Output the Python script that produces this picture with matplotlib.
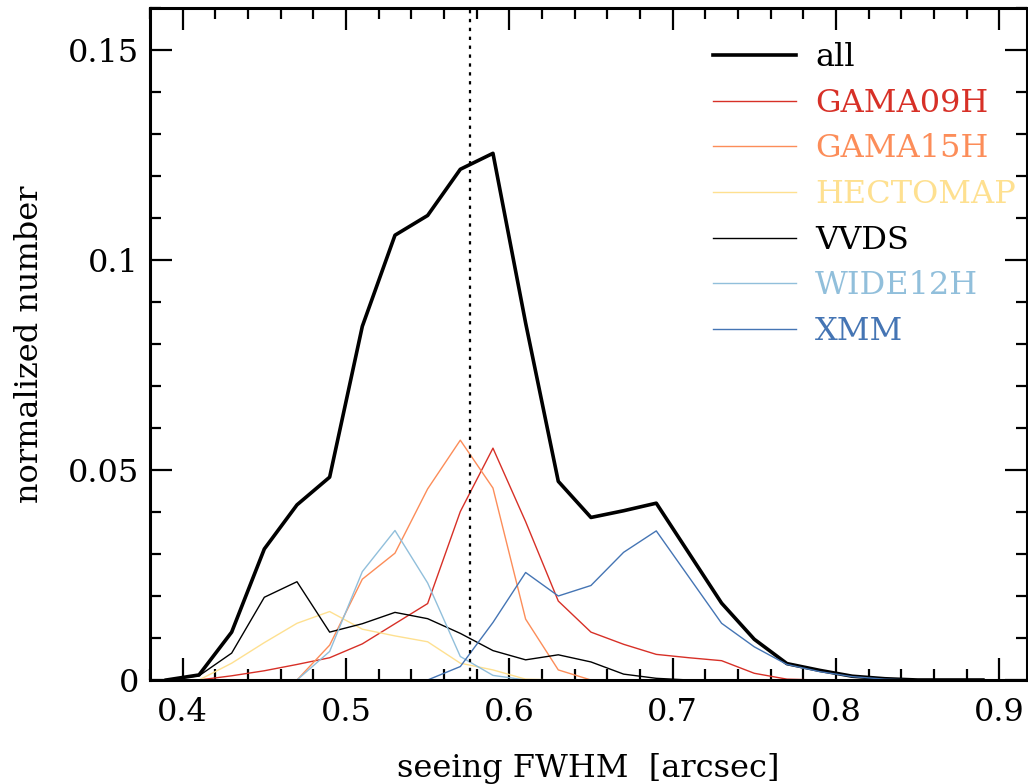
import numpy as np
import matplotlib
matplotlib.use("Agg")
import matplotlib.pyplot as plt
from matplotlib.ticker import MultipleLocator, FormatStrFormatter, FuncFormatter

# data: bin centres and normalized counts per field
bins = [0.39, 0.41, 0.43, 0.45, 0.47, 0.49, 0.51, 0.53, 0.55, 0.57, 0.59, 0.61, 0.63,
        0.65, 0.67, 0.69, 0.71, 0.73, 0.75, 0.77, 0.79, 0.81, 0.83, 0.85, 0.87, 0.89]

all_fields = [0.0, 0.0012, 0.0114, 0.0312, 0.0417, 0.0483, 0.0842, 0.1059, 0.1106, 0.1216, 0.1254, 0.0850, 0.0473,
              0.0387, 0.0403, 0.0421, 0.0302, 0.0183, 0.0097, 0.0039, 0.0023, 0.0009, 0.0003, 0.0, 0.0, 0.0]
gama09h = [0.0, 0.0, 0.0010, 0.0022, 0.0037, 0.0053, 0.0086, 0.0134, 0.0182, 0.0401, 0.0552, 0.0377, 0.0188,
           0.0114, 0.0085, 0.0061, 0.0053, 0.0046, 0.0016, 0.0002, 0.0, 0.0, 0.0, 0.0, 0.0, 0.0]
gama15h = [0.0, 0.0, 0.0, 0.0, 0.0, 0.0083, 0.0240, 0.0302, 0.0455, 0.0571, 0.0457, 0.0145, 0.0024,
           0.0, 0.0, 0.0, 0.0, 0.0, 0.0, 0.0, 0.0, 0.0, 0.0, 0.0, 0.0, 0.0]
hectomap = [0.0, 0.0, 0.0040, 0.0089, 0.0135, 0.0163, 0.0121, 0.0105, 0.0091, 0.0040, 0.0024, 0.0002, 0.0,
            0.0, 0.0, 0.0, 0.0, 0.0, 0.0, 0.0, 0.0, 0.0, 0.0, 0.0, 0.0, 0.0]
vvds = [0.0, 0.0010, 0.0064, 0.0197, 0.0234, 0.0114, 0.0134, 0.0161, 0.0146, 0.0111, 0.0070, 0.0048, 0.0060,
        0.0043, 0.0014, 0.0004, 0.0, 0.0, 0.0, 0.0, 0.0, 0.0, 0.0, 0.0, 0.0, 0.0]
wide12h = [0.0, 0.0, 0.0, 0.0, 0.0, 0.0068, 0.0258, 0.0356, 0.0231, 0.0056, 0.0011, 0.0, 0.0,
           0.0, 0.0, 0.0, 0.0, 0.0, 0.0, 0.0, 0.0, 0.0, 0.0, 0.0, 0.0, 0.0]
xmm = [0.0, 0.0, 0.0, 0.0, 0.0, 0.0, 0.0, 0.0, 0.0, 0.0032, 0.0137, 0.0256, 0.0200,
       0.0225, 0.0304, 0.0355, 0.0245, 0.0135, 0.0079, 0.0037, 0.0020, 0.0008, 0.0002, 0.0, 0.0, 0.0]

median_seeing = 0.576

plt.rcParams['font.family'] = ['DejaVu Serif']
plt.rcParams['font.size'] = 23

fig = plt.figure(figsize=(10.28, 7.84), dpi=100)
ax = fig.add_axes([150 / 1028, 104 / 784, 877 / 1028, 672 / 784])

ax.plot(bins, all_fields, color='black', lw=2.6, label='all')
ax.plot(bins, gama09h, color='#d73027', lw=1.0, label='GAMA09H')
ax.plot(bins, gama15h, color='#fc8d59', lw=1.0, label='GAMA15H')
ax.plot(bins, hectomap, color='#fee090', lw=1.0, label='HECTOMAP')
ax.plot(bins, vvds, color='black', lw=1.0, label='VVDS')
ax.plot(bins, wide12h, color='#91bfdb', lw=1.0, label='WIDE12H')
ax.plot(bins, xmm, color='#4575b4', lw=1.0, label='XMM')
ax.axvline(median_seeing, color='black', lw=1.6, ls=(0, (1.5, 2.5)))

ax.set_xlim(0.38, 0.917)
ax.set_ylim(0, 0.16)

ax.xaxis.set_major_locator(MultipleLocator(0.1))
ax.xaxis.set_minor_locator(MultipleLocator(0.02))
ax.yaxis.set_major_locator(MultipleLocator(0.05))
ax.yaxis.set_minor_locator(MultipleLocator(0.01))
fmt = FuncFormatter(lambda v, p: '%g' % round(v, 3))
ax.xaxis.set_major_formatter(fmt)
ax.yaxis.set_major_formatter(fmt)

ax.tick_params(which='both', direction='in', top=True, right=True, width=1.6)
ax.tick_params(which='major', length=16)
ax.tick_params(which='minor', length=8)
ax.tick_params(axis='x', which='major', pad=12)
ax.tick_params(axis='y', which='major', pad=8)
for s in ax.spines.values():
    s.set_linewidth(2.2)

ax.set_xlabel('seeing FWHM  [arcsec]', labelpad=18)
ax.set_ylabel('normalized number', labelpad=16)

ax.legend(loc='upper left', bbox_to_anchor=(713 / 1028, 1 - 42 / 784),
          bbox_transform=fig.transFigure, frameon=False, borderpad=0, borderaxespad=0,
          handlelength=2.6, handletextpad=0.6, labelspacing=0.46,
          labelcolor='linecolor', fontsize=23)

fig.savefig('out.png', dpi=100)
